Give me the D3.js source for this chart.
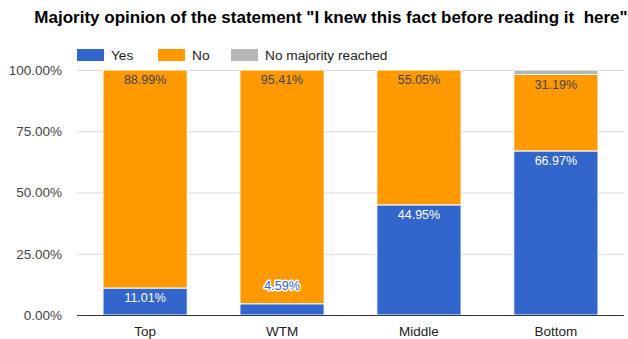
<!DOCTYPE html>
<html><head><meta charset="utf-8">
<script src="https://cdn.jsdelivr.net/npm/d3@7"></script>
<style>body{margin:0;background:#fff;}svg{display:block;font-family:"Liberation Sans",Arial,sans-serif;}</style>
</head><body><svg id="c" width="628" height="339"></svg>
<script>
const categories = ["Top", "WTM", "Middle", "Bottom"];
const seriesNames = ["Yes", "No", "No majority reached"];
const yesValues = [11.01, 4.59, 44.95, 66.97];
const noValues = [88.99, 95.41, 55.05, 31.19];
const noMajorityValues = [0, 0, 0, 1.84];
const yTicks = [0, 25, 50, 75, 100];
const colors = ["#3366cc", "#ff9900", "#b7b7b7"];
const titleText = 'Majority opinion of the statement "I knew this fact before reading it  here"';

const svg = d3.select("#c");
const m = {left: 77, right: 4};
const W = 628;
const x = d3.scaleBand().domain(categories).range([m.left, W - m.right]).paddingInner(0.385).paddingOuter(0.19);
const y = d3.scaleLinear().domain([0, 100]).range([315, 70]);

const rows = categories.map((c, i) => ({cat: c, "Yes": yesValues[i], "No": noValues[i], "No majority reached": noMajorityValues[i]}));
const stack = d3.stack().keys(seriesNames)(rows);

// title
svg.append("text").attr("x", 331).attr("y", 23).attr("text-anchor", "middle")
  .attr("font-size", 17).attr("font-weight", "bold").attr("fill", "#000")
  .style("white-space", "pre").text(titleText);

// gridlines
svg.append("g").selectAll("line").data(yTicks.filter(d => d > 0)).join("line")
  .attr("x1", m.left).attr("x2", W - m.right)
  .attr("y1", d => y(d) + 0.5).attr("y2", d => y(d) + 0.5)
  .attr("stroke", "#d9d9d9").attr("stroke-width", 1);

// y tick labels
const yAxis = d3.axisLeft(y).tickValues(yTicks).tickFormat(d => d.toFixed(2) + "%").tickSize(0).tickPadding(0);
const ga = svg.append("g").attr("transform", `translate(${m.left - 15},0)`).call(yAxis);
ga.select(".domain").remove();
ga.selectAll("text").attr("font-size", 13.5).attr("fill", "#444").attr("font-family", "'Liberation Sans',Arial,sans-serif");

// bars
const layers = svg.append("g").selectAll("g").data(stack).join("g").attr("fill", (d, i) => colors[i]);
layers.selectAll("rect").data(d => d).join("rect")
  .attr("x", d => x(d.data.cat))
  .attr("width", x.bandwidth())
  .attr("y", d => y(d[1]))
  .attr("height", d => Math.max(0, y(d[0]) - y(d[1])))
  .attr("stroke", "#fff").attr("stroke-width", d => (d[1] - d[0]) > 0 ? 1 : 0);

// x axis
const xAxis = d3.axisBottom(x).tickSize(0).tickPadding(0);
const gx = svg.append("g").attr("transform", "translate(0,315)").call(xAxis);
gx.select(".domain").attr("stroke", "#333").attr("d", `M${m.left},0.5H${W - m.right}`);
gx.selectAll("text").attr("font-size", 13.5).attr("fill", "#222").attr("dy", 0).attr("y", 21)
  .attr("font-family", "'Liberation Sans',Arial,sans-serif");

// value labels
stack.forEach((layer, si) => {
  if (si === 2) return;
  layer.forEach(d => {
    const v = d[1] - d[0];
    const top = y(d[1]), h = y(d[0]) - y(d[1]);
    const cx = x(d.data.cat) + x.bandwidth() / 2;
    const label = v.toFixed(2) + "%";
    if (h >= 16) {
      svg.append("text").attr("x", cx).attr("y", top + 14).attr("text-anchor", "middle")
        .attr("font-size", 12.5).attr("fill", si === 0 ? "#fff" : "#444").text(label);
    } else {
      svg.append("text").attr("x", cx).attr("y", top - 14).attr("text-anchor", "middle")
        .attr("font-size", 12.5).attr("fill", colors[si]).attr("stroke", "#fff").attr("stroke-width", 3)
        .attr("paint-order", "stroke").attr("stroke-linejoin", "round").text(label);
    }
  });
});

// legend
const lx = [77, 158, 231];
const lg = svg.append("g").selectAll("g").data(seriesNames).join("g")
  .attr("transform", (d, i) => `translate(${lx[i]},49)`);
lg.append("rect").attr("width", 27).attr("height", 12).attr("fill", (d, i) => colors[i]);
lg.append("text").attr("x", 34).attr("y", 11).attr("font-size", 13.7).attr("fill", "#222").text(d => d);
</script></body></html>
